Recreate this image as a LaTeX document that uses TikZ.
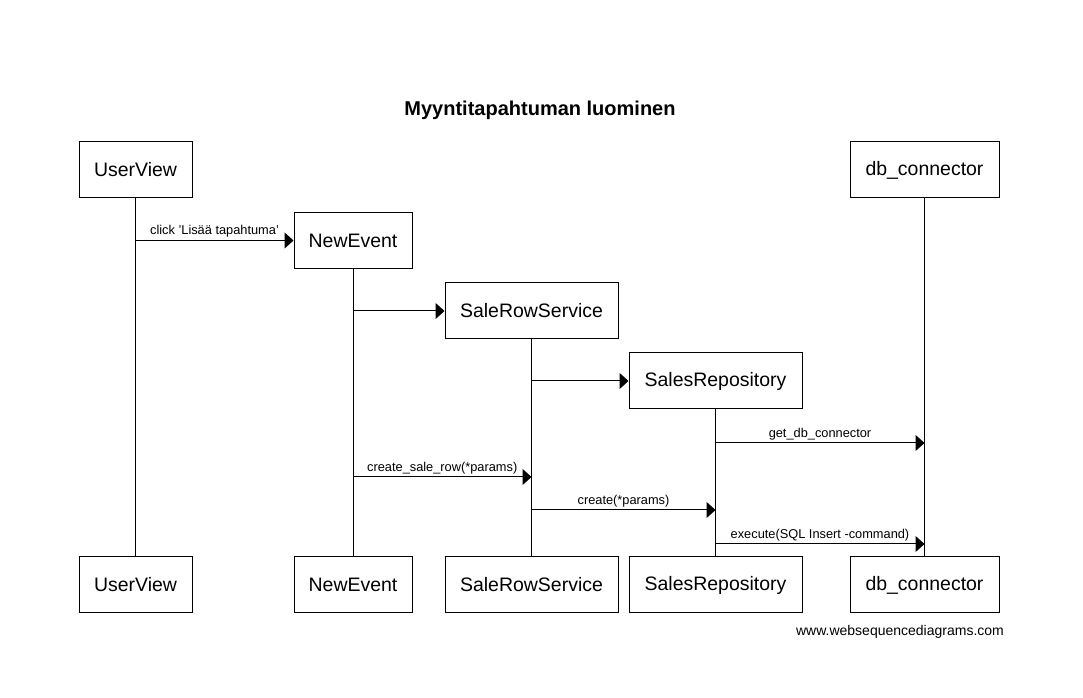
\documentclass[tikz,border=0pt]{standalone}
\usepackage{fontspec}
\setmainfont{Liberation Sans}
\usetikzlibrary{arrows.meta,positioning}

\begin{document}
\begin{tikzpicture}[x=0.75pt,y=-0.75pt,
    actor/.style={rectangle, draw=black, line width=0.75pt, minimum height=42pt, inner sep=0pt, font=\fontsize{14.6}{17}\selectfont},
    lifeline/.style={line width=0.75pt},
    msg/.style={line width=0.75pt, -{Triangle[length=6.75pt, width=12pt]}},
    msglabel/.style={above, inner sep=2pt, font=\fontsize{9.6}{11}\selectfont}
]
\useasboundingbox (0,0) rectangle (1083,698);

% Title
\node[font=\fontsize{15}{18}\selectfont\bfseries] (title) at (540,110) {Myyntitapahtuman luominen};

% Participants - top
\node[actor, minimum width=84.75pt] (userTop) at (135.5,170) {UserView};
\node[actor, minimum width=88.5pt] (newEventTop) at (353,240.5) {NewEvent};
\node[actor, minimum width=129.75pt] (serviceTop) at (531.5,311) {SaleRowService};
\node[actor, minimum width=129.75pt] (repoTop) at (715.5,381) {SalesRepository};
\node[actor, minimum width=111.75pt] (dbTop) at (924.5,170) {db\_connector};

% Participants - bottom
\node[actor, minimum width=84.75pt] (userBot) at (135.5,585) {UserView};
\node[actor, minimum width=88.5pt] (newEventBot) at (353,585) {NewEvent};
\node[actor, minimum width=129.75pt] (serviceBot) at (531.5,585) {SaleRowService};
\node[actor, minimum width=129.75pt] (repoBot) at (715.5,585) {SalesRepository};
\node[actor, minimum width=111.75pt] (dbBot) at (924.5,585) {db\_connector};

% Lifelines
\draw[lifeline] (userTop.south) -- (userBot.north);
\draw[lifeline] (newEventTop.south) -- (newEventBot.north);
\draw[lifeline] (serviceTop.south) -- (serviceBot.north);
\draw[lifeline] (repoTop.south) -- (repoBot.north);
\draw[lifeline] (dbTop.south) -- (dbBot.north);

% Message levels
\coordinate (getDb) at (0,443);
\coordinate (createRow) at (0,477);
\coordinate (create) at (0,510);
\coordinate (execute) at (0,544);

% Messages
\draw[msg] (userTop |- newEventTop.west) -- (newEventTop.west) node[msglabel, midway] {click 'Lisää tapahtuma'};
\draw[msg] (newEventTop |- serviceTop.west) -- (serviceTop.west);
\draw[msg] (serviceTop |- repoTop.west) -- (repoTop.west);
\draw[msg] (repoTop |- getDb) -- (dbTop |- getDb) node[msglabel, midway] {get\_db\_connector};
\draw[msg] (newEventTop |- createRow) -- (serviceTop |- createRow) node[msglabel, midway] {create\_sale\_row(*params)};
\draw[msg] (serviceTop |- create) -- (repoTop |- create) node[msglabel, midway] {create(*params)};
\draw[msg] (repoTop |- execute) -- (dbTop |- execute) node[msglabel, midway] {execute(SQL Insert -command)};

% Footer
\node[font=\fontsize{10.5}{12}\selectfont] (footer) at (900,632) {www.websequencediagrams.com};

\end{tikzpicture}
\end{document}
